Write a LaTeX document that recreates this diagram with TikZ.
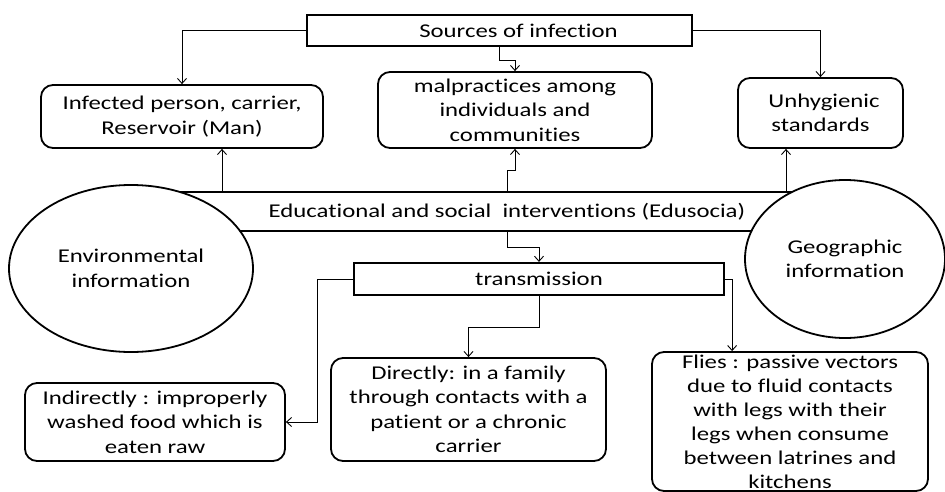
\documentclass[tikz,border=0pt]{standalone}
\usepackage{fontspec}
\setmainfont[FakeStretch=1.27, Ligatures=NoCommon]{Carlito}
\usetikzlibrary{arrows.meta,shapes.geometric}

\tikzset{
  rbox/.style={draw, line width=1.8pt, rounded corners=12pt, align=center,
    inner sep=2pt},
  sqbox/.style={draw, line width=2.6pt, align=center, inner sep=2pt},
  oval/.style={ellipse, draw, line width=1.8pt, fill=white, align=center,
    inner sep=0pt},
  link/.style={line width=0.9pt, -{Straight Barb[length=5pt,width=9pt]}},
  bandline/.style={line width=2pt},
}

\begin{document}
\begin{tikzpicture}[x=1pt, y=-1pt,
  every node/.style={font=\fontsize{19.5}{24.5}\selectfont}]
\useasboundingbox (0,0) rectangle (945,492);

% top row
\node[sqbox, minimum width=385, minimum height=31] (src) at (499.5,30.5)
  {\hspace*{38pt}Sources of infection};
\node[rbox, minimum width=282, minimum height=63] (inf) at (182,116.5)
  {Infected person, carrier,\\Reservoir (Man)};
\node[rbox, minimum width=274, minimum height=76] (mal) at (515,110)
  {malpractices among\\individuals and\\communities};
\node[rbox, minimum width=165, minimum height=70] (unh) at (820.5,113)
  {\hspace*{7pt}Unhygienic\\standards};

% central band, drawn before the ovals so they cover its ends
\node[minimum width=650, minimum height=39, inner sep=0pt] (band) at (475,211.5) {};
\draw[bandline] (band.north west) -- (band.north east);
\draw[bandline] (band.south west) -- (band.south east);
\node at (507,212) {Educational and social\ \ interventions (Edusocia)};

\node[oval, minimum width=244, minimum height=167] (env) at (131,268.5)
  {Environmental\\information};
\node[oval, minimum width=200, minimum height=158] (geo) at (845,259)
  {Geographic\\information};

% transmission and its three routes
\node[sqbox, line width=2.2pt, minimum width=370, minimum height=32] (tr) at (539,279)
  {transmission};
\node[rbox, minimum width=260, minimum height=78] (ind) at (155,422)
  {Indirectly : improperly\\washed food which is\\eaten raw};
\node[rbox, minimum width=275, minimum height=103] (dir) at (468.5,409.5)
  {Directly: in a family\\through contacts with a\\patient or a chronic\\carrier};
\node[rbox, minimum width=276, minimum height=139, inner sep=0pt,
  font=\fontsize{19.5}{24}\selectfont] (fly) at (790,421.5)
  {Flies : passive vectors\\due to fluid contacts\\with legs with their\\legs when consume\\between latrines and\\kitchens};

% connection points on the band
\coordinate (b1) at (222,192);
\coordinate (b2) at (507,192);
\coordinate (b3) at (786,192);
\coordinate (b4) at (507,231);

% connectors
\draw[link] (src.west) -| (inf.north);
\draw[link] (src.east) -| (unh.north);
\draw[link] (src.south) -- ++(0,13) -| (mal.north);

\draw[link] (b1) -- (b1 |- inf.south);
\draw[link] (b2) -- ++(0,-22) -| (mal.south);
\draw[link] (b3) -- (b3 |- unh.south);
\draw[link] (b4) -- ++(0,16) -| (tr.north);

\draw[link] (tr.west) -- ++(-35,0) |- (ind.east);
\draw[link] (tr.south) -- ++(0,31) -| (dir.north);
\draw[link] (tr.east) -- ++(7,0) coordinate (k) -- (k |- fly.north);
\end{tikzpicture}
\end{document}
